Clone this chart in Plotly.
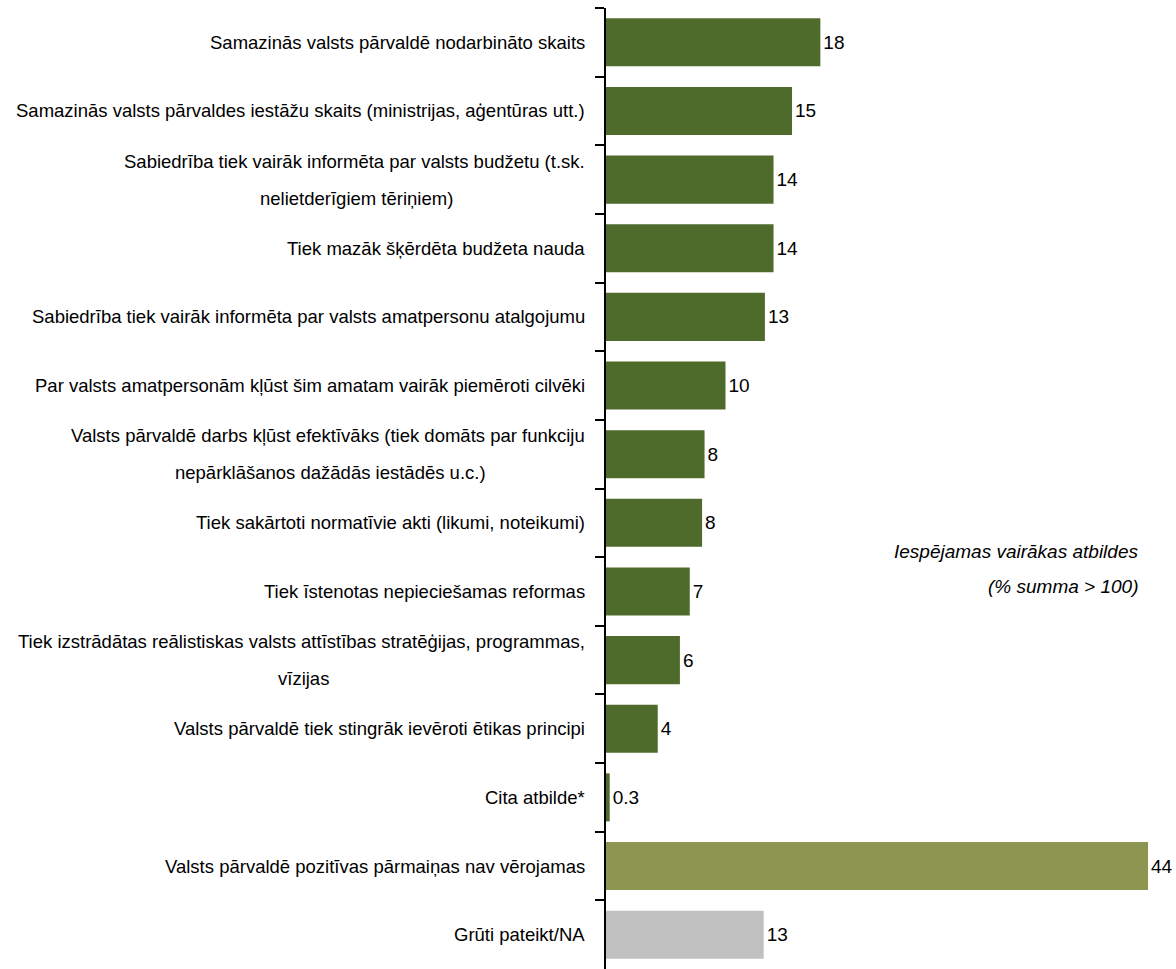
import plotly.graph_objects as go

categories = [
    "Samazinās valsts pārvaldē nodarbināto skaits",
    "Samazinās valsts pārvaldes iestāžu skaits (ministrijas, aģentūras utt.)",
    "Sabiedrība tiek vairāk informēta par valsts budžetu (t.sk.|nelietderīgiem tēriņiem)",
    "Tiek mazāk šķērdēta budžeta nauda",
    "Sabiedrība tiek vairāk informēta par valsts amatpersonu atalgojumu",
    "Par valsts amatpersonām kļūst šim amatam vairāk piemēroti cilvēki",
    "Valsts pārvaldē darbs kļūst efektīvāks (tiek domāts par funkciju|nepārklāšanos dažādās iestādēs u.c.)",
    "Tiek sakārtoti normatīvie akti (likumi, noteikumi)",
    "Tiek īstenotas nepieciešamas reformas",
    "Tiek izstrādātas reālistiskas valsts attīstības stratēģijas, programmas,|vīzijas",
    "Valsts pārvaldē tiek stingrāk ievēroti ētikas principi",
    "Cita atbilde*",
    "Valsts pārvaldē pozitīvas pārmaiņas nav vērojamas",
    "Grūti pateikt/NA",
]
values = [17.4, 15.1, 13.6, 13.6, 12.9, 9.7, 8.0, 7.8, 6.8, 6.0, 4.2, 0.3, 44.0, 12.8]
value_labels = ["18", "15", "14", "14", "13", "10", "8", "8", "7", "6", "4", "0.3", "44", "13"]
bar_colors = ["#4F6B2B"] * 12 + ["#8C9650", "#C0C0C0"]
note_lines = ["Iespējamas vairākas atbildes", "(% summa > 100)"]

# layout helper: rendered pixel width of first line for wrapped labels (for centering line 2)
first_line_px = {2: 461, 6: 514, 9: 567}

ids = [str(i) for i in range(len(categories))]
FS = 18.5
FAM = "Liberation Sans, Arial, sans-serif"
font = dict(family=FAM, size=FS, color="#000000")

fig = go.Figure(go.Bar(
    y=ids, x=values, orientation="h",
    marker=dict(color=bar_colors, line=dict(width=0)),
    width=0.7,
    text=value_labels, textposition="outside", textfont=dict(family=FAM, size=19, color="#000000"),
    cliponaxis=False, constraintext="none",
    hoverinfo="skip",
))

half_gap = 18.5
ann = []
for i, (cid, cat) in enumerate(zip(ids, categories)):
    lines = cat.split("|")
    common = dict(x=0, xref="paper", xshift=-19, y=cid, yref="y", showarrow=False,
                  xanchor="right", yanchor="middle", font=font)
    if len(lines) == 1:
        ann.append(dict(common, text=lines[0]))
    else:
        ann.append(dict(common, text=lines[0], yshift=half_gap))
        ann.append(dict(common, text=lines[1], xanchor="center",
                        xshift=-19 - first_line_px[i] / 2, yshift=-half_gap))

note_y = [0.434, 0.398]
for ln, yy in zip(note_lines, note_y):
    ann.append(dict(x=43.35, xref="x", y=yy, yref="paper", text="<i>" + ln + "</i>",
                    showarrow=False, xanchor="right", yanchor="middle",
                    font=dict(family=FAM, size=19, color="#000000")))

fig.update_layout(
    width=1176, height=969,
    margin=dict(l=606, r=0, t=8, b=0),
    paper_bgcolor="white", plot_bgcolor="white",
    showlegend=False,
    xaxis=dict(range=[0, 46.27], visible=False, fixedrange=True),
    yaxis=dict(type="category", categoryorder="array", categoryarray=ids, autorange="reversed",
               showticklabels=False, showgrid=False, zeroline=False, fixedrange=True,
               showline=True, linecolor="black", linewidth=2,
               ticks="outside", tickson="boundaries", ticklen=9, tickwidth=2, tickcolor="black"),
    annotations=ann,
)
fig.write_html(
    "out.html",
    config={"displayModeBar": False},
    post_script="document.body.style.margin='0';document.body.style.overflow='hidden';",
)
